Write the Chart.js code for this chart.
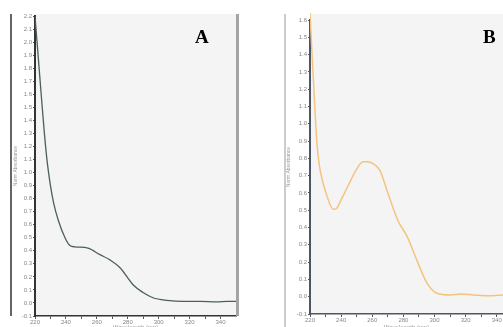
<!DOCTYPE html>
<html>
<head>
<meta charset="utf-8">
<script src="https://cdn.jsdelivr.net/npm/chart.js@4.4.1/dist/chart.umd.min.js"></script>
<style>
  body { margin: 0; width: 503px; height: 327px; overflow: hidden; background: #fff; position: relative; }
  canvas { position: absolute; top: 0; }
  #chartA { left: 0; }
  #chartB { left: 270px; }
  .panel-label { position: absolute; font: bold 19px "Liberation Serif", serif; color: #000; line-height: 1; }
</style>
</head>
<body>
<canvas id="chartA" width="245" height="335"></canvas>
<canvas id="chartB" width="233" height="335"></canvas>
<div class="panel-label" style="left:195px;top:27px;">A</div>
<div class="panel-label" style="left:483px;top:27px;">B</div>
<script>
// wavelength (nm) / normalised absorbance
const wlA = [220, 222, 224, 226, 228, 230, 232, 234.9, 239.4, 242.6, 245.9, 254.3, 262, 268.5, 275, 283.4, 289.9, 296.3, 305.4, 315.7, 326.7, 337.7, 344.2, 350];
const absA = [2.2, 1.9, 1.6, 1.31, 1.07, 0.9, 0.77, 0.64, 0.5, 0.44, 0.43, 0.42, 0.37, 0.33, 0.27, 0.14, 0.08, 0.04, 0.02, 0.012, 0.012, 0.008, 0.012, 0.012];

const wlB = [220, 221.5, 223.2, 224.5, 226, 228, 230.3, 233, 235, 237, 240, 244.4, 249.5, 254, 257, 260.4, 264.9, 270, 276.5, 282.3, 288.7, 295.1, 301.5, 310, 317, 325, 335, 344];
const absB = [1.64, 1.37, 1.08, 0.88, 0.76, 0.67, 0.6, 0.53, 0.505, 0.51, 0.56, 0.64, 0.73, 0.78, 0.78, 0.77, 0.73, 0.6, 0.44, 0.35, 0.21, 0.08, 0.02, 0.01, 0.015, 0.01, 0.005, 0.01];

const xTicks = [220, 230, 240, 250, 260, 270, 280, 290, 300, 310, 320, 330, 340];
const xLabelStep = 20;
const yStep = 0.1;

const yTitle = "Norm Absorbance";
const xTitle = "Wavelength (nm)";

// grey plot background + frame lines of the original screenshot
function framePlugin(opts) {
  return {
    id: "frame",
    beforeDraw(chart) {
      const { ctx, chartArea } = chart;
      ctx.save();
      ctx.fillStyle = "#f4f4f4";
      ctx.fillRect(chartArea.left, 14, chartArea.right - chartArea.left, chartArea.bottom - 14);
      ctx.restore();
    },
    afterDraw(chart) {
      const { ctx, chartArea } = chart;
      ctx.save();
      ctx.strokeStyle = opts.leftColor;
      ctx.lineWidth = 1.5;
      ctx.beginPath();
      ctx.moveTo(opts.leftX, 14);
      ctx.lineTo(opts.leftX, opts.leftBottom);
      ctx.stroke();
      if (opts.rightBar) {
        ctx.fillStyle = "#a4a4a4";
        ctx.fillRect(chartArea.right, 14, 3, chartArea.bottom - 14);
      }
      ctx.restore();
    },
  };
}

function makeChart(id, wl, abs, color, cfg) {
  return new Chart(document.getElementById(id), {
    type: "line",
    data: {
      datasets: [
        {
          data: wl.map((w, i) => ({ x: w, y: abs[i] })),
          borderColor: color,
          borderWidth: cfg.lineWidth,
          pointRadius: 0,
          cubicInterpolationMode: "monotone",
          clip: { left: 0, top: 8, right: 0, bottom: 0 },
        },
      ],
    },
    options: {
      responsive: false,
      animation: false,
      layout: { padding: { left: cfg.padLeft, right: cfg.padRight, top: cfg.padTop, bottom: 0 } },
      plugins: { legend: { display: false }, tooltip: { enabled: false } },
      scales: {
        x: {
          type: "linear",
          min: 220,
          max: cfg.xMax,
          afterBuildTicks: (scale) => {
            scale.ticks = xTicks.map((v) => ({ value: v }));
          },
          afterFit: (scale) => {
            scale.height = cfg.xHeight;
          },
          ticks: {
            autoSkip: false,
            maxRotation: 0,
            padding: 0,
            color: "#888",
            font: { family: "Liberation Sans", size: 6 },
            callback: (v) => (v % xLabelStep === 0 ? v : ""),
          },
          grid: { drawOnChartArea: false, drawTicks: true, tickLength: 3, tickColor: "#555" },
          border: { display: true, color: cfg.axisColor, width: 1.5 },
          title: {
            display: true,
            text: xTitle,
            color: "#999",
            font: { family: "Liberation Sans", size: 6 },
            padding: { top: 0, bottom: 4 },
          },
        },
        y: {
          min: -0.1,
          max: cfg.yMax,
          afterFit: (scale) => {
            scale.width = cfg.yWidth;
          },
          ticks: {
            stepSize: yStep,
            autoSkip: false,
            padding: 1,
            color: "#888",
            font: { family: "Liberation Sans", size: 6 },
            callback: (v) => v.toFixed(1),
          },
          grid: { drawOnChartArea: false, drawTicks: true, tickLength: 2, tickColor: "#555" },
          border: { display: true, color: cfg.axisColor, width: 2 },
          title: {
            display: true,
            text: yTitle,
            color: "#999",
            font: { family: "Liberation Sans", size: 5 },
            padding: { top: 1.5, bottom: 0 },
          },
        },
      },
    },
    plugins: [framePlugin(cfg.frame)],
  });
}

makeChart("chartA", wlA, absA, "#4b5f5e", {
  lineWidth: 1.3,
  padLeft: 11,
  padRight: 9,
  padTop: 16,
  xMax: 350,
  xHeight: 19,
  yMax: 2.2,
  yWidth: 24,
  axisColor: "#333",
  frame: { leftX: 11, leftBottom: 316, leftColor: "#333", rightBar: true },
});

makeChart("chartB", wlB, absB, "#f3c47f", {
  lineWidth: 1.5,
  padLeft: 14,
  padRight: 0,
  padTop: 20,
  xMax: 344,
  xHeight: 21,
  yMax: 1.6,
  yWidth: 26,
  axisColor: "#4d5566",
  frame: { leftX: 15, leftBottom: 335, leftColor: "#bbb", rightBar: false },
});
</script>
</body>
</html>
